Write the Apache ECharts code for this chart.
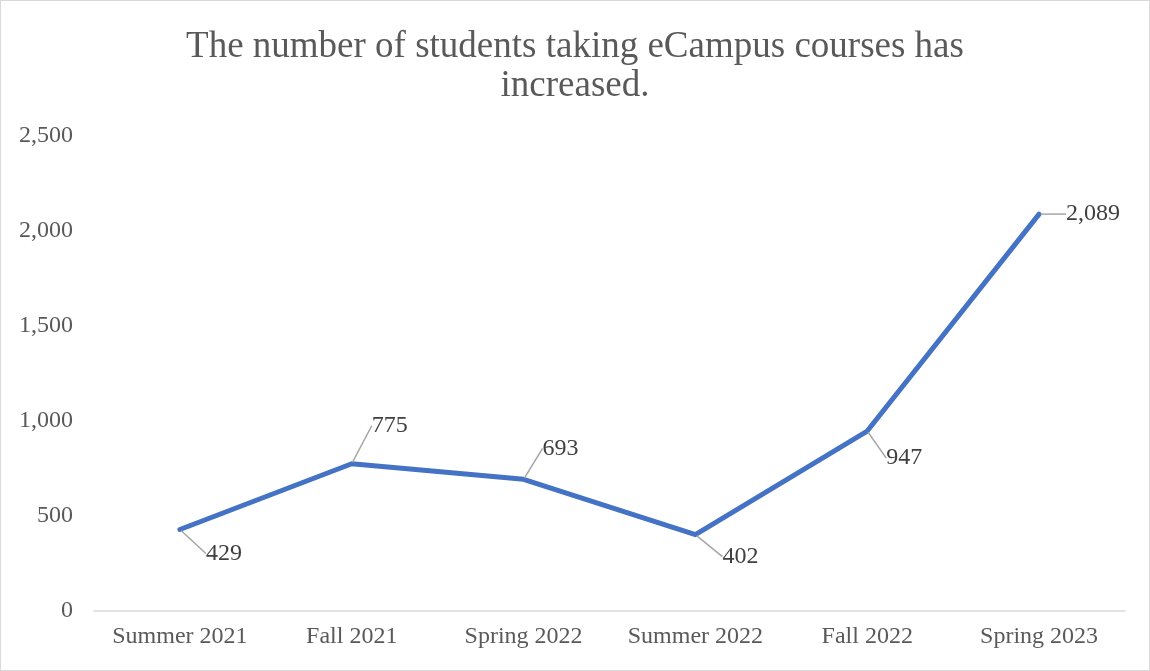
<!DOCTYPE html>
<html>
<head>
<meta charset="utf-8">
<script src="https://cdn.jsdelivr.net/npm/echarts@6/dist/echarts.min.js"></script>
<style>
  html, body { margin: 0; padding: 0; background: #fff; }
  #chart { width: 1150px; height: 671px; box-sizing: border-box; border: 1px solid #d9d9d9; }
</style>
</head>
<body>
<div id="chart"></div>
<script>
const terms = ["Summer 2021", "Fall 2021", "Spring 2022", "Summer 2022", "Fall 2022", "Spring 2023"];
const students = [429, 775, 693, 402, 947, 2089];
const yTicks = [0, 500, 1000, 1500, 2000, 2500];

// where each value label sits, relative to its point
const labelShift = [[44, 24], [38, -38], [37, -31], [45, 22], [37, 27], [54, 0]];

const fmt = (v) => v.toLocaleString("en-US");
const serif = "'Liberation Serif', 'Times New Roman', serif";

const chart = echarts.init(document.getElementById("chart"));
chart.setOption({
  backgroundColor: "#fff",
  animation: false,
  title: {
    text: "The number of students taking eCampus courses has\nincreased.",
    left: "center",
    top: 22,
    textStyle: { fontFamily: serif, fontWeight: "normal", fontSize: 37, lineHeight: 39, color: "#595959" }
  },
  grid: { left: 93, right: 24, top: 135, bottom: 59 },
  xAxis: {
    type: "category",
    data: terms,
    axisLine: { lineStyle: { color: "#d9d9d9", width: 1.5 } },
    axisTick: { show: false },
    axisLabel: { interval: 0, fontFamily: serif, fontSize: 24, color: "#595959", margin: 14 }
  },
  yAxis: {
    type: "value",
    min: yTicks[0],
    max: yTicks[yTicks.length - 1],
    interval: 500,
    axisLine: { show: false },
    axisTick: { show: false },
    splitLine: { show: false },
    axisLabel: { fontFamily: serif, fontSize: 24, color: "#595959", margin: 21, formatter: fmt }
  },
  series: [
    {
      type: "line",
      data: students,
      symbol: "circle",
      symbolSize: 3,
      itemStyle: { color: "#4472C4" },
      lineStyle: { color: "#4472C4", width: 5, cap: "round", join: "round" },
      label: {
        show: true,
        position: "inside",
        fontFamily: serif,
        fontSize: 24,
        color: "#404040",
        formatter: (p) => fmt(p.value)
      },
      labelLine: { show: true, lineStyle: { color: "#a6a6a6", width: 1.5 } },
      labelLayout: (p) => ({ dx: labelShift[p.dataIndex][0], dy: labelShift[p.dataIndex][1] })
    }
  ]
});
</script>
</body>
</html>
